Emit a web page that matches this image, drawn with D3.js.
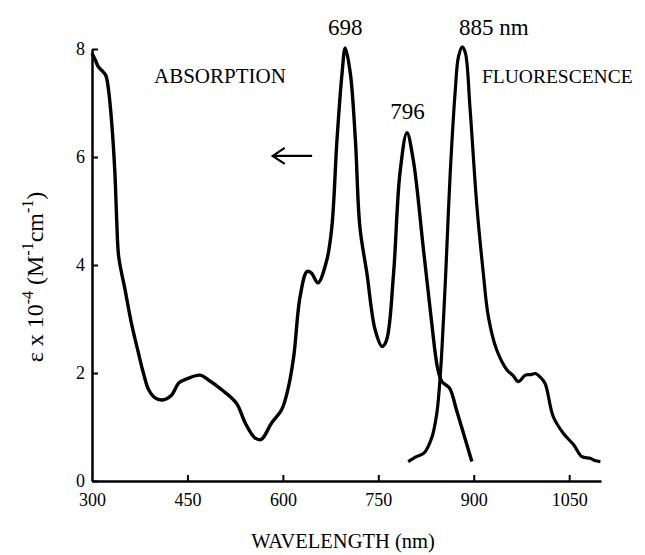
<!DOCTYPE html>
<html>
<head>
<meta charset="utf-8">
<script src="https://cdn.jsdelivr.net/npm/d3@7"></script>
<style>
  body { margin: 0; background: #fff; }
  svg { font-family: "Liberation Serif", "DejaVu Serif", serif; }
</style>
</head>
<body>
<svg width="645" height="555"></svg>
<script>
"use strict";

// absorption spectrum (wavelength nm, epsilon x 10^-4)
const absWl  = [300,305,310,318,322,326,331,336,339,342,352,362,373,381,389,398,410,425,436,451,470,483,504,527,541,556,566,582,598,608,617,627,638,645,655,669,677,685,693,698,706,714,721,732,745,756,763,774,784,795,805,821,834,843,850,862,873,897];
const absVal = [7.92,7.80,7.67,7.57,7.50,7.24,6.63,5.70,4.78,4.15,3.54,2.92,2.37,1.99,1.69,1.55,1.50,1.59,1.81,1.90,1.96,1.87,1.69,1.44,1.07,0.80,0.77,1.07,1.32,1.70,2.30,3.41,3.88,3.85,3.67,4.09,4.71,6.31,7.55,8.02,7.55,6.31,4.71,3.85,2.80,2.49,2.61,3.85,5.70,6.45,5.94,4.28,2.92,2.10,1.84,1.72,1.31,0.36];

// fluorescence spectrum, scaled to the same axis
const fluWl  = [797,810,822,834,842,848,852,856,863,871,876,882,887,894,905,915,923,936,952,962,970,981,990,997,1004,1012,1025,1041,1057,1070,1083,1090,1099];
const fluVal = [0.36,0.45,0.52,0.80,1.26,2.06,2.90,3.85,5.70,7.24,7.86,8.04,7.92,6.93,5.08,3.85,3.04,2.43,2.06,1.95,1.84,1.96,1.97,1.99,1.93,1.81,1.19,0.88,0.67,0.45,0.42,0.38,0.36];

const xTicks = [300, 450, 600, 750, 900, 1050];
const yTicks = [0, 2, 4, 6, 8];

const peakLabels = [
  {wl: 698, val: 8.0, text: "698", anchor: "middle"},
  {wl: 796, val: 6.45, text: "796", anchor: "middle"},
  {wl: 877, val: 8.0, text: "885 nm", anchor: "start"}
];

const svg = d3.select("svg");

const x = d3.scaleLinear().domain([300, 1100]).range([92, 601]);
const y = d3.scaleLinear().domain([0, 8]).range([481, 49]);

// axes, ticks pointing inward
const xAxis = svg.append("g")
  .attr("transform", `translate(0,${y(0)})`)
  .call(d3.axisBottom(x).tickValues(xTicks).tickFormat(d3.format("d"))
    .tickSizeInner(-6).tickSizeOuter(0).tickPadding(12));

const yAxis = svg.append("g")
  .attr("transform", `translate(${x(300)},0)`)
  .call(d3.axisLeft(y).tickValues(yTicks).tickSizeInner(-6).tickSizeOuter(0).tickPadding(7));

for (const ax of [xAxis, yAxis]) {
  ax.select(".domain").attr("stroke", "#000").attr("stroke-width", 2.5);
  ax.selectAll(".tick line").attr("stroke", "#000").attr("stroke-width", 2);
  ax.selectAll(".tick text")
    .attr("fill", "#000")
    .style("font-family", "Liberation Serif")
    .style("font-size", "18px");
}
xAxis.selectAll(".tick").filter(d => d == 300).select("line").remove();

const line = d3.line()
  .x(d => x(d[0]))
  .y(d => y(d[1]))
  .curve(d3.curveCatmullRom.alpha(0.5));

svg.append("path")
  .datum(d3.zip(absWl, absVal))
  .attr("d", line)
  .attr("fill", "none")
  .attr("stroke", "#000")
  .attr("stroke-width", 3.4)
  .attr("stroke-linejoin", "round");

svg.append("path")
  .datum(d3.zip(fluWl, fluVal))
  .attr("d", line)
  .attr("fill", "none")
  .attr("stroke", "#000")
  .attr("stroke-width", 3.2)
  .attr("stroke-linejoin", "round");

// peak labels
svg.selectAll(".peak")
  .data(peakLabels)
  .enter()
  .append("text")
  .attr("x", d => x(d.wl))
  .attr("y", d => y(d.val) - 14)
  .attr("text-anchor", d => d.anchor)
  .style("font-size", "23px")
  .text(d => d.text);

svg.append("text")
  .attr("x", 154).attr("y", 83)
  .style("font-size", "21px")
  .text("ABSORPTION");

svg.append("text")
  .attr("x", 482).attr("y", 83)
  .style("font-size", "19.5px")
  .text("FLUORESCENCE");

// arrow pointing to the absorption axis
const ay = y(6.02);
svg.append("path")
  .attr("d", `M${x(646)},${ay}H${x(584)}M${x(584) + 12},${ay - 8}L${x(584)},${ay}L${x(584) + 12},${ay + 8}`)
  .attr("fill", "none")
  .attr("stroke", "#000")
  .attr("stroke-width", 2.2);

// axis titles
svg.append("text")
  .attr("x", 343).attr("y", 548)
  .attr("text-anchor", "middle")
  .style("font-size", "20.5px")
  .text("WAVELENGTH (nm)");

const yt = svg.append("text")
  .attr("transform", "translate(43,277) rotate(-90)")
  .attr("text-anchor", "middle")
  .style("font-size", "24px");
yt.append("tspan").text("\u03b5 x 10");
yt.append("tspan").attr("dy", -10).style("font-size", "16px").text("-4");
yt.append("tspan").attr("dy", 10).text(" (M");
yt.append("tspan").attr("dy", -10).style("font-size", "16px").text("-1");
yt.append("tspan").attr("dy", 10).text("cm");
yt.append("tspan").attr("dy", -10).style("font-size", "16px").text("-1");
yt.append("tspan").attr("dy", 10).text(")");
</script>
</body>
</html>
